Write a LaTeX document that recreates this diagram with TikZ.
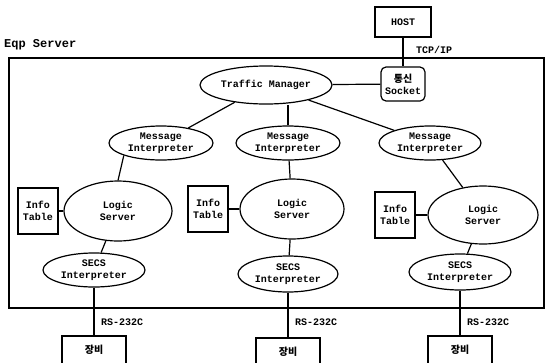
\documentclass[tikz,border=0pt]{standalone}
\usepackage{fontspec}
\setmainfont{Liberation Mono}
\newfontfamily\kofont{Noto Sans CJK KR}
\usetikzlibrary{positioning,shapes.geometric}

\begin{document}
\begin{tikzpicture}[x=1pt, y=-1pt,
    box/.style={draw, line width=1.2pt, inner sep=1pt, align=center, font=\bfseries\fontsize{10}{12}\selectfont},
    oval/.style={draw, ellipse, line width=1.2pt, inner sep=0pt, align=center, font=\bfseries\fontsize{10}{12}\selectfont},
    lnk/.style={line width=1.2pt},
    lbl/.style={font=\bfseries\fontsize{10}{12}\selectfont, inner sep=0pt, anchor=west}
]
\clip (0,0) rectangle (548,362);
% outer server frame
\node[lbl, font=\bfseries\fontsize{12}{14}\selectfont] (eqp) at (4,45) {Eqp Server};
\draw[lnk] (9,58) rectangle (544,308);

\node[box, minimum width=56pt, minimum height=30pt] (host) at (403,22) {HOST};
\node[lbl] (tcp) at (416,50) {TCP/IP};
\node[box, rounded corners=5pt, minimum width=44pt, minimum height=34pt] (sock) at (403,84) {{\kofont\bfseries 통신}\\Socket};
\node[oval, minimum width=132pt, minimum height=38pt] (tm) at (266,85) {Traffic Manager};

\node[oval, minimum width=104pt, minimum height=34pt] (mi1) at (161,143) {Message\\Interpreter};
\node[oval, minimum width=104pt, minimum height=34pt] (mi2) at (288,143) {Message\\Interpreter};
\node[oval, minimum width=102pt, minimum height=34pt] (mi3) at (430,143) {Message\\Interpreter};

\node[oval, minimum width=108pt, minimum height=60pt] (ls1) at (118,211) {Logic\\Server};
\node[oval, minimum width=104pt, minimum height=60pt] (ls2) at (292,209) {Logic\\Server};
\node[oval, minimum width=110pt, minimum height=58pt] (ls3) at (483,215) {Logic\\Server};

\node[box, minimum width=40pt, minimum height=46pt] (it1) at (38,211) {Info\\Table};
\node[box, minimum width=40pt, minimum height=46pt] (it2) at (208,209) {Info\\Table};
\node[box, minimum width=40pt, minimum height=46pt] (it3) at (395,215) {Info\\Table};

\node[oval, minimum width=102pt, minimum height=34pt] (secs1) at (94,270) {SECS\\Interpreter};
\node[oval, minimum width=100pt, minimum height=36pt] (secs2) at (288,274) {SECS\\Interpreter};
\node[oval, minimum width=102pt, minimum height=36pt] (secs3) at (460,272) {SECS\\Interpreter};

\node[lbl] (rs1) at (101,322) {RS-232C};
\node[lbl] (rs2) at (295,322) {RS-232C};
\node[lbl] (rs3) at (467,322) {RS-232C};

\node[box, minimum width=64pt, minimum height=28pt] (eq1) at (94,350) {\kofont\bfseries 장비};
\node[box, minimum width=64pt, minimum height=28pt] (eq2) at (288,352) {\kofont\bfseries 장비};
\node[box, minimum width=64pt, minimum height=28pt] (eq3) at (460,350) {\kofont\bfseries 장비};

\draw[lnk] (host) -- (sock);
\draw[lnk] (tm) -- (sock);
\draw[lnk] (tm) -- (mi1);
\draw[lnk] (mi2.north) -- (mi2.north |- tm.south);
\draw[lnk] (tm) -- (mi3);
\draw[lnk] (mi1.south west) -- (ls1.north);
\draw[lnk] (mi2) -- (ls2);
\draw[lnk] (mi3) -- (ls3);
\draw[lnk] (it1) -- (ls1);
\draw[lnk] (it2) -- (ls2);
\draw[lnk] (it3) -- (ls3);
\draw[lnk] (ls1) -- (secs1);
\draw[lnk] (ls2) -- (secs2);
\draw[lnk] (ls3) -- (secs3);
\draw[lnk] (secs1) -- (eq1);
\draw[lnk] (secs2) -- (eq2);
\draw[lnk] (secs3) -- (eq3);
\end{tikzpicture}
\end{document}
